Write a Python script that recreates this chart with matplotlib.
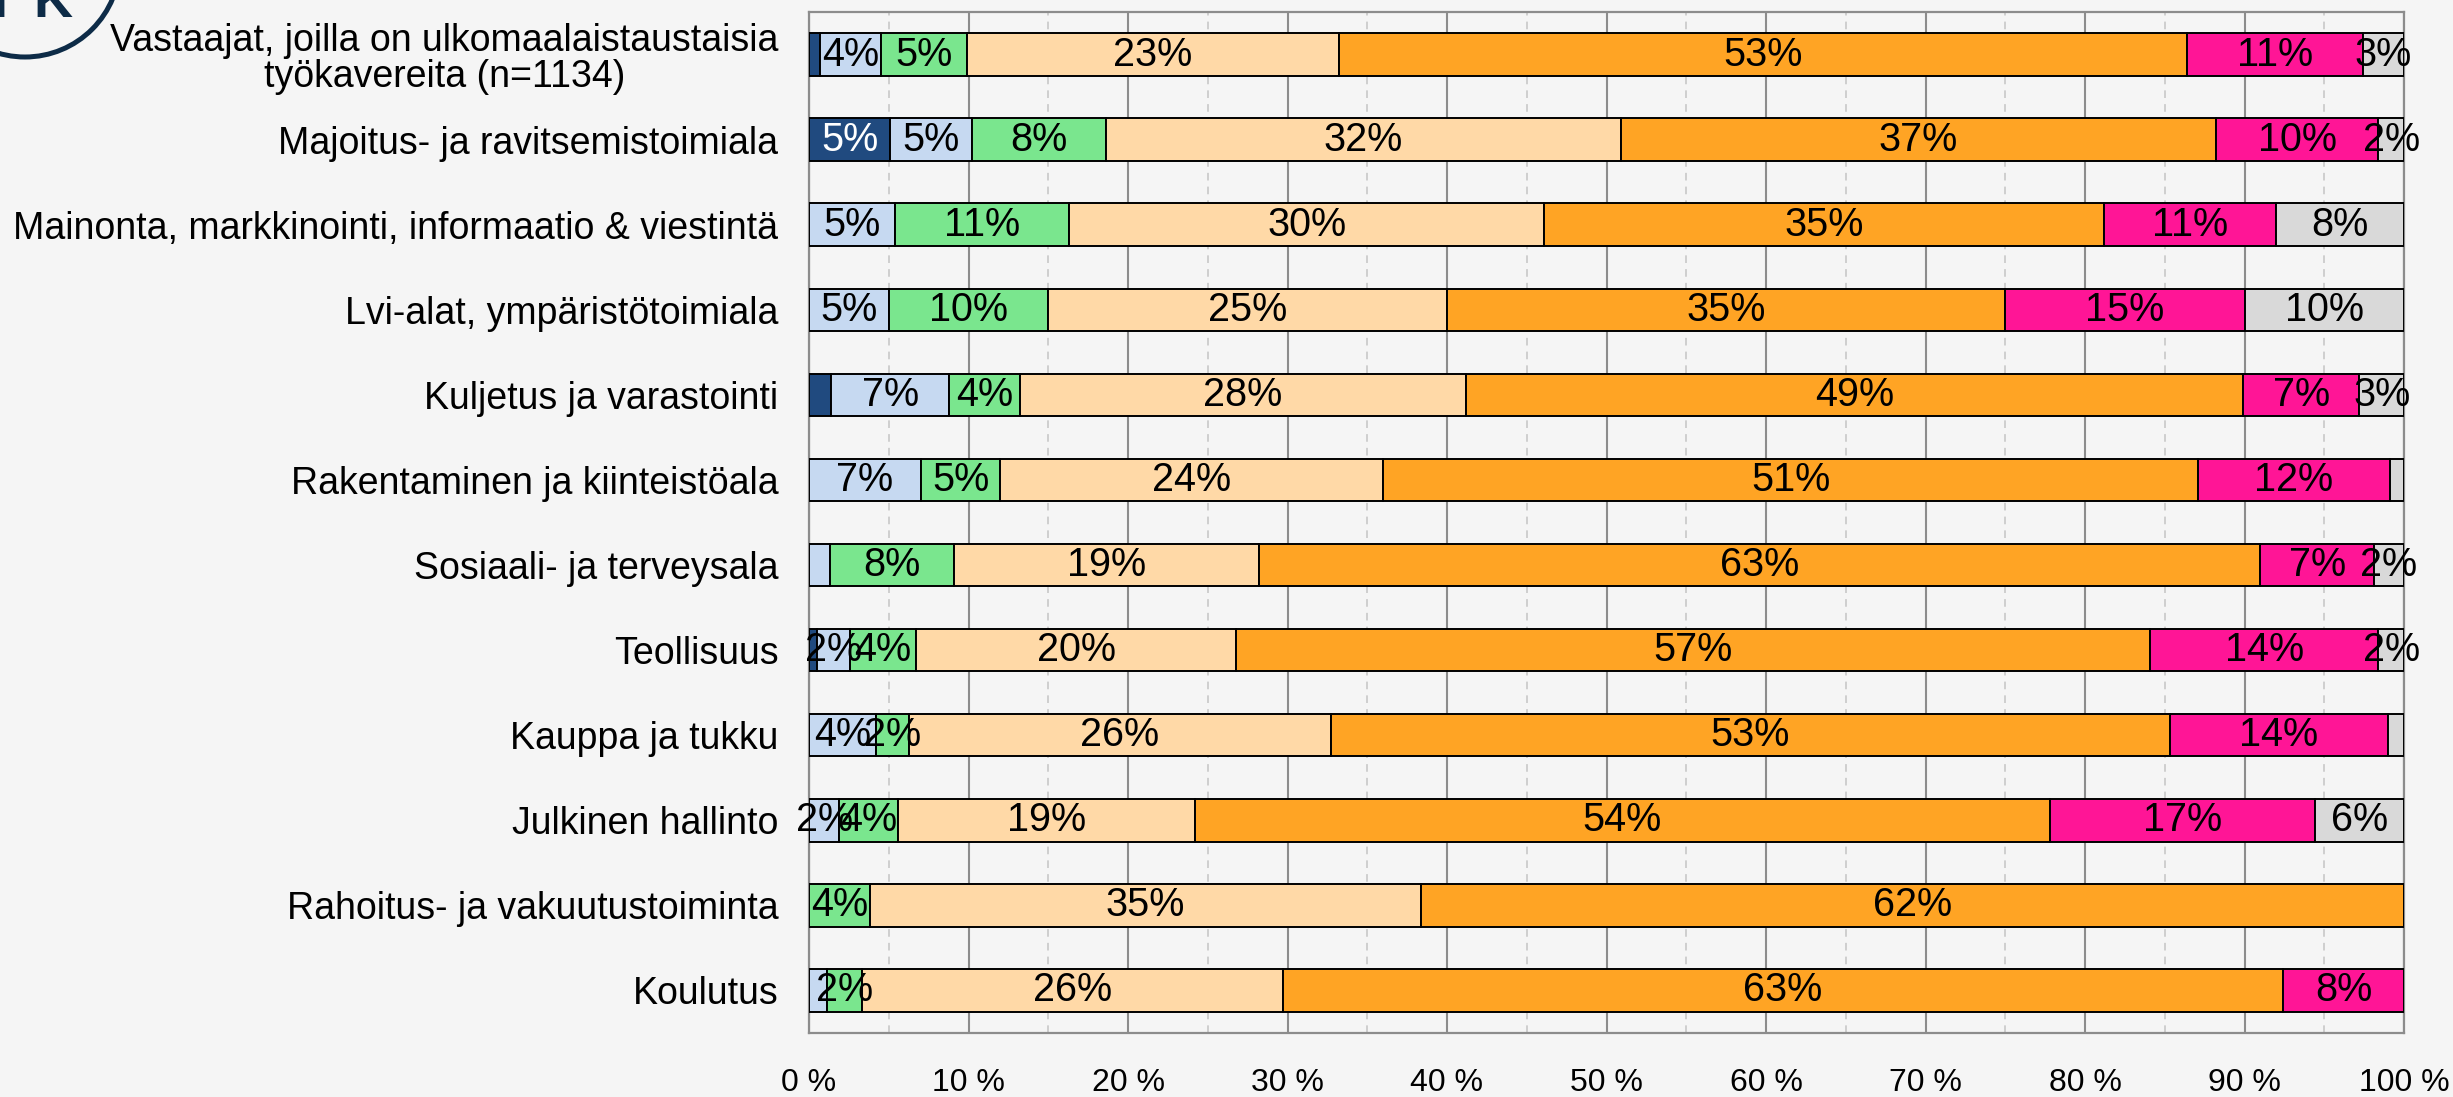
import numpy as np
import matplotlib
matplotlib.use("Agg")
import matplotlib.pyplot as plt
from matplotlib.patches import Circle

plt.rcParams['font.family'] = ['Liberation Sans', 'DejaVu Sans']

categories = [
    "Vastaajat, joilla on ulkomaalaistaustaisia\ntyökavereita (n=1134)",
    "Majoitus- ja ravitsemistoimiala",
    "Mainonta, markkinointi, informaatio & viestintä",
    "Lvi-alat, ympäristötoimiala",
    "Kuljetus ja varastointi",
    "Rakentaminen ja kiinteistöala",
    "Sosiaali- ja terveysala",
    "Teollisuus",
    "Kauppa ja tukku",
    "Julkinen hallinto",
    "Rahoitus- ja vakuutustoiminta",
    "Koulutus",
]

# prosentit, ylhäältä alas
navy      = [0.7, 5.1, 0.0, 0.0, 1.4, 0.0, 0.0, 0.5, 0.0, 0.0, 0.0, 0.0]
lightblue = [3.8, 5.1, 5.4, 5.0, 7.4, 7.0, 1.3, 2.1, 4.2, 1.9, 0.0, 1.1]
green     = [5.4, 8.4, 10.9, 10.0, 4.4, 5.0, 7.8, 4.1, 2.1, 3.7, 3.8, 2.2]
peach     = [23.3, 32.3, 29.8, 25.0, 28.0, 24.0, 19.1, 20.1, 26.4, 18.6, 34.6, 26.4]
orange    = [53.2, 37.3, 35.1, 35.0, 48.7, 51.1, 62.8, 57.3, 52.6, 53.6, 61.6, 62.7]
pink      = [11.0, 10.2, 10.8, 15.0, 7.3, 12.0, 7.1, 14.3, 13.7, 16.6, 0.0, 7.6]
gray      = [2.6, 1.6, 8.0, 10.0, 2.8, 0.9, 1.9, 1.6, 1.0, 5.6, 0.0, 0.0]

series = [navy, lightblue, green, peach, orange, pink, gray]
colors = ['#204A7F', '#C6D9F1', '#7AE68E', '#FFD9A7', '#FFA424', '#FF1596', '#D9D9D9']
text_colors = ['white', 'black', 'black', 'black', 'black', 'black', 'black']

xticks = np.arange(0, 101, 10)
xtick_labels = [f"{t} %" for t in xticks]

bg = '#F5F5F5'
fig = plt.figure(figsize=(24.53, 10.97), dpi=100, facecolor=bg)
ax = fig.add_axes([809 / 2453, 1 - 1033 / 1097, 1595 / 2453, 1021 / 1097])
ax.set_facecolor(bg)

y = np.arange(len(categories))
left = np.zeros(len(categories))
for vals, col, tcol in zip(series, colors, text_colors):
    vals = np.array(vals)
    ax.barh(y, vals, left=left, height=0.5, color=col, edgecolor='black',
            linewidth=1.4, zorder=3)
    for yi, (l, v) in enumerate(zip(left, vals)):
        if v >= 1.5:
            ax.text(l + v / 2, yi, f"{v:.0f}%", ha='center', va='center',
                    fontsize=28.5, color=tcol, zorder=4)
    left += vals

ax.set_xlim(0, 100)
ax.set_ylim(len(categories) - 0.5, -0.5)
ax.set_yticks(y)
ax.set_yticklabels(categories, fontsize=27, linespacing=1.0, ha='right',
                   multialignment='center')
ax.set_xticks(xticks)
ax.set_xticklabels(xtick_labels, fontsize=23)
ax.set_xticks(np.arange(5, 100, 10), minor=True)
ax.tick_params(axis='both', which='both', length=0)
ax.tick_params(axis='y', pad=22)
ax.tick_params(axis='x', pad=25)

ax.grid(axis='x', which='major', color='#8C8C8C', linewidth=1.5, zorder=0)
ax.grid(axis='x', which='minor', color='#C4C4C4', linewidth=1.1,
        linestyle=(0, (5, 4)), zorder=0)
for s in ax.spines.values():
    s.set_color('#8C8C8C')
    s.set_linewidth(1.6)

# logo vasemmassa yläkulmassa
fig.add_artist(Circle((0.25, 11.35), 0.95, transform=fig.dpi_scale_trans,
                      fill=False, edgecolor='#0D2B47', linewidth=3.6))
fig.text(0.0, 10.80, "T", transform=fig.dpi_scale_trans, ha='center',
         va='baseline', fontsize=39, fontweight='bold', color='#0D2B47')
fig.text(0.33, 10.80, "K", transform=fig.dpi_scale_trans, ha='left',
         va='baseline', fontsize=39, fontweight='bold', color='#0D2B47')

fig.savefig("out.png", dpi=100, facecolor=bg)
